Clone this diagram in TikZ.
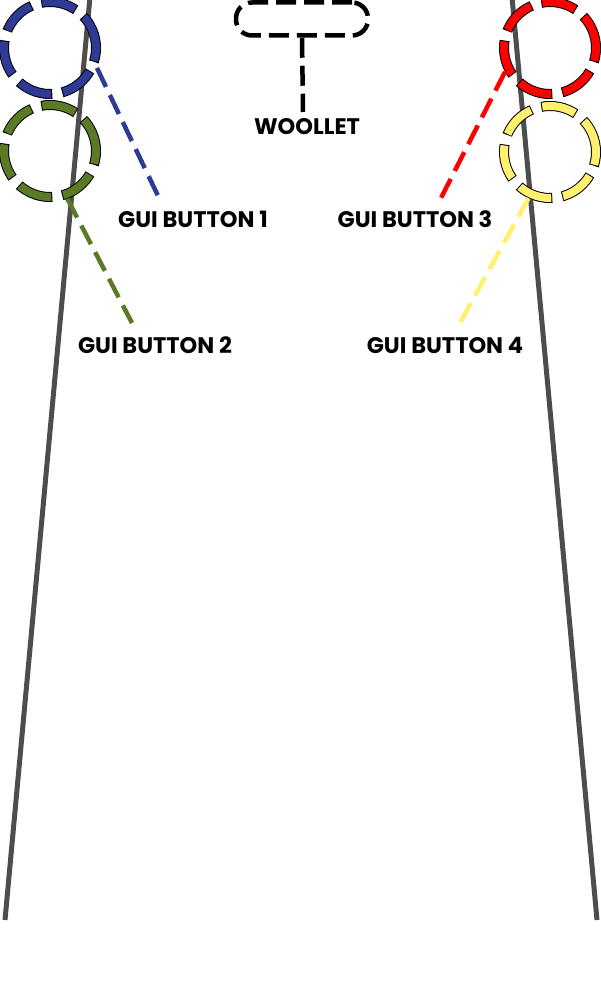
\documentclass[tikz,border=0pt]{standalone}
\usepackage{fontspec}
\setmainfont{Poppins}
\definecolor{bluec}{HTML}{2E3A94}
\definecolor{greenc}{HTML}{5B7A26}
\definecolor{redc}{HTML}{FF0000}
\definecolor{yellowc}{HTML}{FFF06E}
\definecolor{railc}{HTML}{4D4D4D}
\begin{document}
\begin{tikzpicture}[x=1pt,y=-1pt,
  ring/.style={circle, minimum size=92pt, inner sep=0pt, draw=black, line width=10pt,
    dash pattern=on 36pt off 10pt, dash phase=1pt,
    postaction={draw=#1, line width=8pt, dash pattern=on 34pt off 12pt, dash phase=0pt}},
  conn/.style={draw=#1, line width=4.5pt, dash pattern=on 21pt off 9pt},
  rail/.style={draw=railc, line width=5pt},
  btnlabel/.style={font=\bfseries\fontsize{22.5}{26}\selectfont, inner sep=0pt, text=black},
  woolbox/.style={draw=black, rounded corners=16pt, minimum width=132pt, minimum height=33pt,
    line width=4.5pt, dash pattern=on 20pt off 8pt, inner sep=0pt},
  woolline/.style={draw=black, line width=4.5pt, dash pattern=on 20pt off 8pt}]
\useasboundingbox (0,0) rectangle (600,1000);
% rails
\coordinate (lt) at (90,-3);
\coordinate (lb) at (5,920);
\coordinate (rt) at (512,-3);
\coordinate (rb) at (597,920);
\draw[rail] (lt) -- (lb);
\draw[rail] (rt) -- (rb);
% rings
\node[ring=bluec] (c1) at (50,48) {};
\node[ring=greenc] (c2) at (50,151) {};
\node[ring=redc] (c3) at (550,48) {};
\node[ring=yellowc] (c4) at (550,152) {};
% labels
\node[btnlabel] (l1) at (193,219) {GUI BUTTON 1};
\node[btnlabel] (l2) at (155,345) {GUI BUTTON 2};
\node[btnlabel] (l3) at (415,219) {GUI BUTTON 3};
\node[btnlabel] (l4) at (445,345) {GUI BUTTON 4};
% connector ends
\coordinate (e1) at (160,200);
\coordinate (e2) at (132,323);
\coordinate (e3) at (440,200);
\coordinate (e4) at (460,323);
\draw[conn=bluec] (c1.-23) -- (e1);
\draw[conn=greenc] (c2.-70) -- (e2);
\draw[conn=redc] (c3.-152) -- (e3);
\draw[conn=yellowc] (c4.-115) -- (e4);
% woollet
\node[woolbox] (w) at (302,19) {};
\coordinate (we) at (303,112);
\draw[woolline] (w.south) -- (we);
\node[btnlabel] (wl) at (307,127) {WOOLLET};
\end{tikzpicture}
\end{document}
